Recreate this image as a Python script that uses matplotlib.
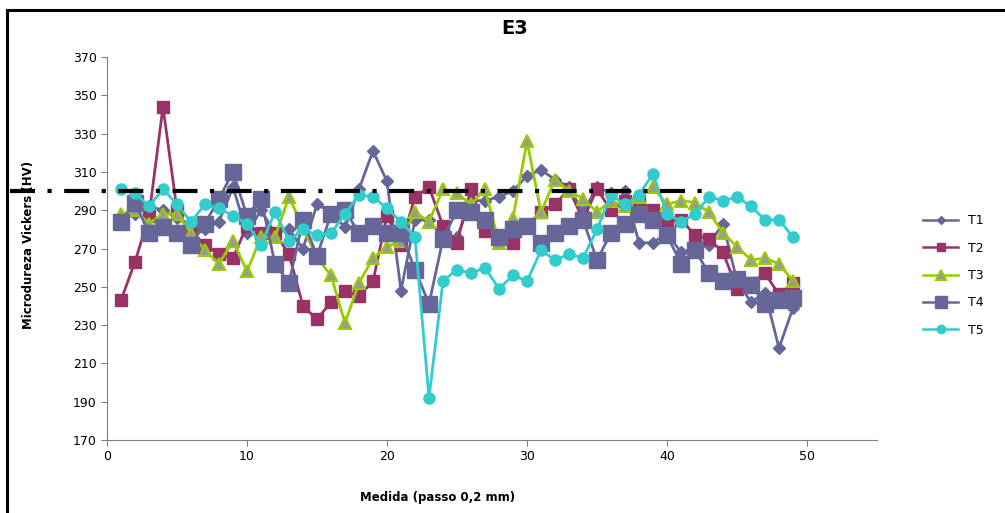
import matplotlib
matplotlib.use("Agg")
import matplotlib.pyplot as plt
from matplotlib.lines import Line2D

x = list(range(1, 50))
T1 = [285, 288, 292, 290, 286, 281, 280, 284, 302, 278, 290, 278, 280, 270, 293, 289, 281, 301, 321, 305,
      248, 285, 285, 275, 276, 295, 295, 297, 300, 308, 311, 306, 302, 289, 302, 299, 300, 273, 273, 278,
      268, 270, 272, 283, 253, 242, 247, 218, 239]
T2 = [243, 263, 287, 344, 290, 278, 272, 267, 265, 282, 278, 278, 267, 240, 233, 242, 248, 245, 253, 287,
      272, 297, 302, 282, 273, 301, 279, 275, 273, 282, 289, 293, 301, 285, 301, 290, 295, 295, 290, 284,
      285, 277, 275, 268, 249, 252, 257, 246, 252]
T3 = [288, 290, 283, 288, 288, 278, 269, 262, 274, 258, 276, 276, 297, 281, 265, 256, 231, 252, 265, 271,
      274, 289, 284, 301, 299, 293, 301, 273, 286, 326, 289, 306, 300, 296, 289, 295, 292, 297, 302, 293,
      295, 294, 289, 278, 271, 264, 265, 262, 253]
T4 = [284, 294, 278, 281, 278, 272, 283, 296, 310, 287, 296, 262, 252, 285, 266, 288, 290, 278, 282, 278,
      278, 259, 241, 275, 290, 289, 285, 276, 280, 282, 273, 278, 282, 285, 264, 278, 283, 288, 285, 277,
      262, 269, 257, 253, 254, 251, 241, 243, 244]
T5 = [301, 299, 292, 301, 293, 284, 293, 291, 287, 283, 272, 289, 274, 280, 277, 278, 288, 298, 297, 291,
      284, 276, 192, 253, 259, 257, 260, 249, 256, 253, 269, 264, 267, 265, 280, 298, 293, 298, 309, 288,
      284, 288, 297, 295, 297, 292, 285, 285, 276]
ref_level = 300
ref_x = [-6.9, 43]

W, H = 1005, 513
fig = plt.figure(figsize=(W / 100, H / 100), dpi=100)
# chart-area border (left and top edges visible)
fig.add_artist(Line2D([7 / W, 7 / W], [0, 1 - 10 / H], transform=fig.transFigure, color="black", linewidth=2.2))
fig.add_artist(Line2D([7 / W, 1], [1 - 10 / H, 1 - 10 / H], transform=fig.transFigure, color="black", linewidth=2.2))

L, R, T, B = 107, 877, 57, 440
ax = fig.add_axes([L / W, 1 - B / H, (R - L) / W, (B - T) / H])

ax.plot(x, T1, color="#666699", marker="D", markersize=6, linewidth=2, label="T1")
ax.plot(x, T2, color="#993366", marker="s", markersize=8, linewidth=2, label="T2")
ax.plot(x, T3, color="#99CC00", marker="^", markersize=9, markerfacecolor="#999999",
        markeredgecolor="#99CC00", markeredgewidth=1.5, linewidth=2, label="T3")
ax.plot(x, T4, color="#666699", marker="s", markersize=12, linewidth=2, label="T4")
ax.plot(x, T5, color="#33CCCC", marker="o", markersize=8, linewidth=2, label="T5")

ax.plot(ref_x, [ref_level, ref_level], color="black", linewidth=3,
        linestyle=(0, (6, 3, 1, 3)), clip_on=False)

ax.set_xlim(0, 55)
ax.set_ylim(170, 370)
ax.set_xticks([0, 10, 20, 30, 40, 50])
ax.set_yticks(range(170, 371, 20))
for s in ["top", "right"]:
    ax.spines[s].set_visible(False)
for s in ["left", "bottom"]:
    ax.spines[s].set_color("#808080")
ax.tick_params(axis="both", colors="#808080", labelcolor="black", labelsize=9, length=4)

fig.text(515 / W, 1 - 29 / H, "E3", ha="center", va="center", fontsize=14, fontweight="bold")
fig.text(438 / W, 1 - 497 / H, "Medida (passo 0,2 mm)", ha="center", va="center",
         fontsize=8.5, fontweight="bold")
fig.text(29 / W, 1 - 245 / H, "Microdureza Vickers (HV)", ha="center", va="center",
         rotation=90, fontsize=8.5, fontweight="bold")

handles, labels = ax.get_legend_handles_labels()
leg = fig.legend(handles[:5], labels[:5], loc="upper left", bbox_to_anchor=(912 / W, 1 - 203 / H),
                 frameon=False, fontsize=9, handlelength=2.8, labelspacing=1.15, markerscale=0.75)
for ln in leg.get_lines():
    ln.set_linewidth(1.8)

fig.savefig("out.png", dpi=100)
